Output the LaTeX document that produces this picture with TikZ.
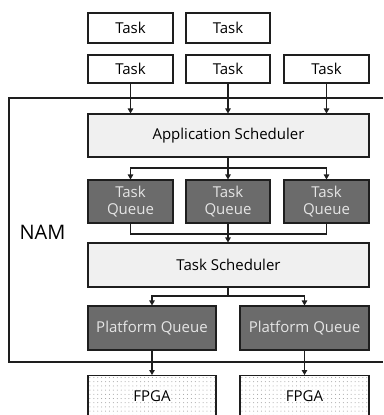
\documentclass[tikz,border=0pt]{standalone}
\usepackage{fontspec}
\setmainfont{Open Sans}
\usetikzlibrary{arrows.meta}
\definecolor{lineclr}{HTML}{1E1E1E}
\definecolor{lightfill}{HTML}{F0F0F0}
\definecolor{darkfill}{HTML}{6B6B6B}
\definecolor{dottclr}{HTML}{999999}
\tikzset{
  box/.style={draw=lineclr, line width=1.1pt, inner sep=0pt,
    font=\fontsize{15}{17}\selectfont, align=center},
  taskbox/.style={box, fill=white},
  schedbox/.style={box, fill=lightfill},
  queuebox/.style={box, fill=darkfill, text=white!90!black},
  fpgabox/.style={box, fill=white},
  link/.style={draw=lineclr, line width=1.1pt},
  arr/.style={link, -{Triangle[length=5pt,width=5.5pt]}},
}
\begin{document}
\begin{tikzpicture}[x=1pt, y=-1pt]
\useasboundingbox (0,0) rectangle (383,415);
\clip (0,0) rectangle (383,415);
\fill[white] (0,0) rectangle (383,415);

% incoming tasks
\node[taskbox, minimum width=85pt, minimum height=30pt] (t1) at (130.5,28) {Task};
\node[taskbox, minimum width=84pt, minimum height=30pt] (t2) at (228,28) {Task};
\node[taskbox, minimum width=85pt, minimum height=28pt] (t3) at (130.5,69) {Task};
\node[taskbox, minimum width=84pt, minimum height=28pt] (t4) at (228,69) {Task};
\node[taskbox, minimum width=85pt, minimum height=28pt] (t5) at (326.5,69) {Task};

% NAM frame (open on the right)
\coordinate (nTR) at (383,98);
\coordinate (nTL) at (9,98);
\coordinate (nBL) at (9,362);
\coordinate (nBR) at (383,362);
\draw[link] (nTR) -- (nTL) -- (nBL) -- (nBR);
\node[font=\fontsize{20}{24}\selectfont, anchor=west] (nam) at (16,232) {NAM};

% schedulers and queues
\node[schedbox, minimum width=281pt, minimum height=43pt] (app) at (228.5,135.5) {Application Scheduler};
\node[queuebox, minimum width=85pt, minimum height=43pt] (q1) at (130.5,201.5) {Task\\Queue};
\node[queuebox, minimum width=84pt, minimum height=43pt] (q2) at (228,201.5) {Task\\Queue};
\node[queuebox, minimum width=85pt, minimum height=43pt] (q3) at (326.5,201.5) {Task\\Queue};
\node[schedbox, minimum width=281pt, minimum height=44pt] (ts) at (228.5,265) {Task Scheduler};
\node[queuebox, minimum width=128pt, minimum height=44pt] (p1) at (152,328) {Platform Queue};
\node[queuebox, minimum width=129pt, minimum height=44pt] (p2) at (304.5,328) {Platform Queue};

% FPGA boards with dotted fill
\node[fpgabox, minimum width=128pt, minimum height=60pt, anchor=north] (f1) at (152,375) {};
\node[fpgabox, minimum width=129pt, minimum height=60pt, anchor=north] (f2) at (304.5,375) {};
\foreach \bx in {f1,f2}{
  \begin{scope}
    \clip ([xshift=1.5pt,yshift=-1.5pt]\bx.north west) rectangle ([xshift=-1.5pt,yshift=1.5pt]\bx.south east);
    \foreach \i in {0,...,33}{
      \foreach \j in {0,...,12}{
        \fill[dottclr] ([xshift=2.5pt+\i*3.9pt, yshift=-2.5pt-\j*4.2pt]\bx.north west) circle (0.5pt);
      }
    }
  \end{scope}
  \node[font=\fontsize{15}{17}\selectfont, fill=white, inner sep=0.3pt] at ([yshift=-21pt]\bx.north) {FPGA};
}

% tasks into the application scheduler
\draw[arr] (t3.south) -- (t3.south |- app.north);
\draw[arr] (t4.south) -- (t4.south |- app.north);
\draw[arr] (t5.south) -- (t5.south |- app.north);

% application scheduler to task queues
\coordinate (s1) at (228,168);
\draw[link] (app.south -| s1) -- (s1);
\draw[arr] (s1) -| (q1.north);
\draw[arr] (s1) -- (q2.north);
\draw[arr] (s1) -| (q3.north);

% task queues to task scheduler
\coordinate (s2) at (228,234);
\draw[link] (q1.south) |- (s2);
\draw[link] (q3.south) |- (s2);
\draw[arr] (q2.south) -- (ts.north -| q2.south);

% task scheduler to platform queues
\coordinate (s3) at (228,296);
\draw[link] (ts.south -| s3) -- (s3);
\draw[arr] (s3) -| (p1.north);
\draw[arr] (s3) -| (p2.north);

% platform queues to FPGAs
\draw[arr] (p1.south) -- (f1.north);
\draw[arr] (p2.south) -- (f2.north);
\end{tikzpicture}
\end{document}
